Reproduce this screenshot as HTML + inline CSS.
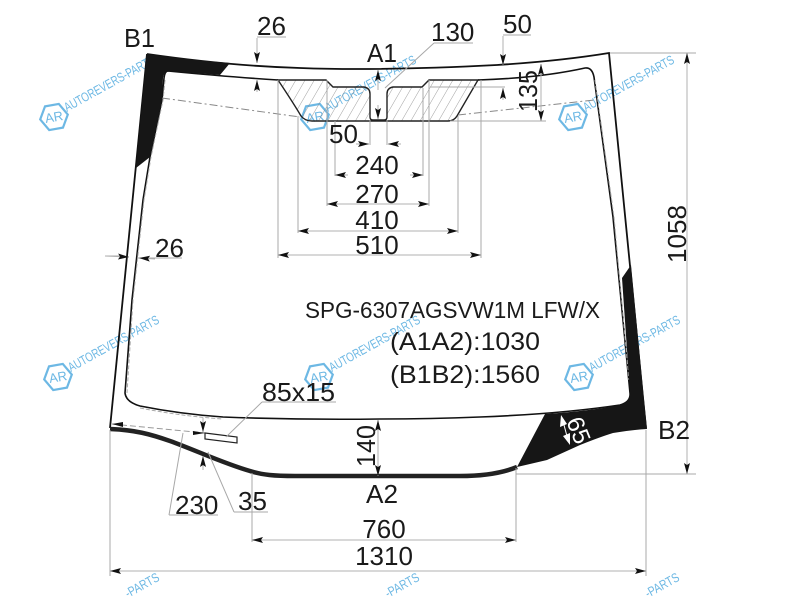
<!DOCTYPE html>
<html><head><meta charset="utf-8"><style>
html,body{margin:0;padding:0;background:#fff;width:800px;height:600px;overflow:hidden}
svg{display:block}
text{font-family:"Liberation Sans",sans-serif;fill:#1a1a1a}
.d{font-size:26px}
.w{font-size:13px;fill:#6db8e4}
.e{stroke:#a8a8a8;stroke-width:1;fill:none}
.a{stroke:#b0b0b0;stroke-width:1;fill:none;marker-end:url(#m);marker-start:url(#m)}
.o{stroke:#b0b0b0;stroke-width:1;fill:none;marker-end:url(#m)}
</style></head><body>
<svg width="800" height="600" viewBox="0 0 800 600" xmlns="http://www.w3.org/2000/svg">
<defs>
<marker id="m" markerUnits="userSpaceOnUse" markerWidth="12" markerHeight="8" refX="11" refY="4" orient="auto-start-reverse"><path d="M0 1L11 4L0 7L2 4Z" fill="#111"/></marker>
<pattern id="h" width="8" height="8" patternUnits="userSpaceOnUse" patternTransform="rotate(30)"><path d="M0 0V8" stroke="#888" stroke-width=".8"/></pattern>
<g id="wm">
<path d="M-14 0L-7 -12H7L14 0L7 12H-7Z" transform="rotate(-10)" fill="none" stroke="#6db8e4" stroke-width="2.2"/>
<text x="0" y="4.5" text-anchor="middle" style="font-size:13px;fill:#6db8e4" transform="rotate(-10)">AR</text>
<text class="w" x="0" y="0" transform="translate(13,-5) rotate(-29)" textLength="102" lengthAdjust="spacingAndGlyphs">AUTOREVERS-PARTS</text>
</g>
</defs>
<rect width="800" height="600" fill="#fff"/>
<use href="#wm" x="54" y="117"/><use href="#wm" x="315" y="117"/><use href="#wm" x="573" y="117"/>
<use href="#wm" x="58" y="377"/><use href="#wm" x="319" y="377"/><use href="#wm" x="579" y="377"/>
<text class="w" transform="translate(128,598) rotate(-29)" textLength="37" lengthAdjust="spacingAndGlyphs">-PARTS</text>
<text class="w" transform="translate(388,598) rotate(-29)" textLength="37" lengthAdjust="spacingAndGlyphs">-PARTS</text>
<text class="w" transform="translate(648,598) rotate(-29)" textLength="37" lengthAdjust="spacingAndGlyphs">-PARTS</text>

<!-- hatched -->
<path d="M278 80H326L333 87H364Q370 88 370 94V117Q370 120 373 120H384Q387 120 387 117V94Q387 88 393 87H422L429 80H478L457 116Q454 121 448 121H312Q305 121 301 116Q294 104 278 80Z" fill="url(#h)" stroke="#222" stroke-width="1.4"/>

<!-- glass outline -->
<path d="M147 54Q230 66 300 68Q380 71 497 65Q560 61 609 53L646 428" fill="none" stroke="#111" stroke-width="1.8"/>
<path d="M147 54L110 428" fill="none" stroke="#111" stroke-width="1.8"/>
<!-- inner line -->
<path d="M168 71Q230 77 278 80M478 80Q540 78 585 68Q592 67 594 77L613 217L630 393Q631 402 620 405Q560 414 480 417Q430 419 380 419Q300 420 223 417Q180 414 140 406Q126 402 125 393L132 300L143 200L150 157L162 100L164 78Q165 71 168 71" fill="none" stroke="#111" stroke-width="1.6"/>
<path d="M165 80L163 100L151 157L144 200L133 300L127 393M595 80L614 217L629 380M140 408Q180 416 223 419" fill="none" stroke="#aaa" stroke-width="1" stroke-dasharray="4 2"/>
<path d="M162 98L300 117M458 115L594 100" fill="none" stroke="#888" stroke-width="1" stroke-dasharray="8 3 2 3"/>
<path d="M112 424L205 433" fill="none" stroke="#999" stroke-width="1" stroke-dasharray="6 3"/>

<!-- black corners -->
<path d="M147 54Q190 60 230 63L220 75L168 71Q164 72 163 78L162 100L150 157L136 168Z" fill="#161616"/>
<path d="M631 265L622 278L630 393Q631 402 620 405Q590 411 545 414L517 467Q530 464 547 460L580 445Q600 437 613 433Q630 430 647 429L644 400Z" fill="#161616"/>
<!-- bottom band -->
<path d="M110 429C135 430 150 434 170 441C195 450 225 464 250 471C262 475 275 476 295 476H460Q495 476 517 467" fill="none" stroke="#222" stroke-width="4.5"/>

<!-- small rect -->
<path d="M205 433L237 437V443L205 439Z" fill="#fff" stroke="#222" stroke-width="1.2"/>

<!-- ext lines -->
<path class="e" d="M278 80V258M481 80V258M298 116V233M458 116V233M327 80V206M429 80V206M335 121V176M423 88V176M370 120V145M387 120V145"/>
<path class="e" d="M610 53H696M516 474H696M430 87H505M450 121H546M110 430V576M646 430V576M252 473V542M516 468V542M257 37H286M503 35H531M434 43H473M434 43L385 88M262 402H336M262 402L226 437M169 515H218M169 515L183 433M234 512H268M234 512L208 452M105 256H122M138 258H182"/>

<!-- dims -->
<line class="a" x1="327" y1="204" x2="429" y2="204"/>
<line class="a" x1="298" y1="231" x2="458" y2="231"/>
<line class="a" x1="278" y1="255" x2="481" y2="255"/>
<line class="a" x1="252" y1="540" x2="516" y2="540"/>
<line class="a" x1="110" y1="571" x2="646" y2="571"/>
<line class="a" x1="687" y1="53" x2="687" y2="474"/>
<line class="a" x1="541" y1="64" x2="541" y2="121"/>
<line class="a" x1="378" y1="420" x2="378" y2="476"/>
<line class="o" x1="348" y1="175" x2="335" y2="175"/>
<line class="o" x1="410" y1="175" x2="423" y2="175"/>
<line class="o" x1="356" y1="144" x2="369" y2="144"/>
<line class="o" x1="401" y1="144" x2="388" y2="144"/>
<line class="o" x1="257" y1="38" x2="257" y2="63"/>
<line class="o" x1="257" y1="92" x2="257" y2="80"/>
<line class="o" x1="503" y1="36" x2="503" y2="65"/>
<line class="o" x1="503" y1="100" x2="503" y2="88"/>
<line class="o" x1="378" y1="90" x2="378" y2="70"/>
<line class="o" x1="378" y1="105" x2="378" y2="119"/>
<line class="o" x1="105" y1="256" x2="129" y2="257"/>
<line class="o" x1="155" y1="259" x2="139" y2="258"/>
<path d="M112 424L123 422L123 427Z" fill="#111"/>
<path d="M193 431L205 433L193 435Z" fill="#111"/>
<line class="o" x1="203" y1="418" x2="203" y2="432"/>
<line class="o" x1="203" y1="470" x2="203" y2="456"/>

<!-- white 65 -->
<g transform="translate(566,421) rotate(68)"><text x="0" y="0" style="font-size:24px;fill:#fff">65</text></g>
<path d="M561 415L560 427L567 424ZM570 445L570 433L563 436Z" fill="#fff"/>
<path d="M564 425L568 440" stroke="#fff" fill="none"/>

<!-- labels -->
<text class="d" x="124" y="47" textLength="31" lengthAdjust="spacingAndGlyphs">B1</text>
<text class="d" x="257" y="35">26</text>
<text class="d" x="367" y="62" textLength="30" lengthAdjust="spacingAndGlyphs">A1</text>
<text class="d" x="431" y="41">130</text>
<text class="d" x="503" y="33">50</text>
<text class="d" transform="translate(537,112) rotate(-90)" textLength="42" lengthAdjust="spacingAndGlyphs">135</text>
<text class="d" x="329" y="143">50</text>
<text class="d" x="377" y="174" text-anchor="middle">240</text>
<text class="d" x="377" y="203" text-anchor="middle">270</text>
<text class="d" x="377" y="229" text-anchor="middle">410</text>
<text class="d" x="377" y="254" text-anchor="middle">510</text>
<text class="d" x="155" y="257">26</text>
<text class="d" transform="translate(686,263) rotate(-90)" textLength="58" lengthAdjust="spacingAndGlyphs">1058</text>
<text x="305" y="318" style="font-size:23px" textLength="295" lengthAdjust="spacingAndGlyphs">SPG-6307AGSVW1M LFW/X</text>
<text x="390" y="350" style="font-size:25px" textLength="150" lengthAdjust="spacingAndGlyphs">(A1A2):1030</text>
<text x="390" y="383" style="font-size:25px" textLength="150" lengthAdjust="spacingAndGlyphs">(B1B2):1560</text>
<text class="d" x="262" y="401" textLength="73" lengthAdjust="spacingAndGlyphs">85x15</text>
<text class="d" transform="translate(375,467) rotate(-90)" textLength="42" lengthAdjust="spacingAndGlyphs">140</text>
<text class="d" x="658" y="439" textLength="32" lengthAdjust="spacingAndGlyphs">B2</text>
<text class="d" x="366" y="503" textLength="32" lengthAdjust="spacingAndGlyphs">A2</text>
<text class="d" x="238" y="510">35</text>
<text class="d" x="175" y="514">230</text>
<text class="d" x="384" y="538" text-anchor="middle">760</text>
<text class="d" x="384" y="565" text-anchor="middle">1310</text>
</svg>
</body></html>
